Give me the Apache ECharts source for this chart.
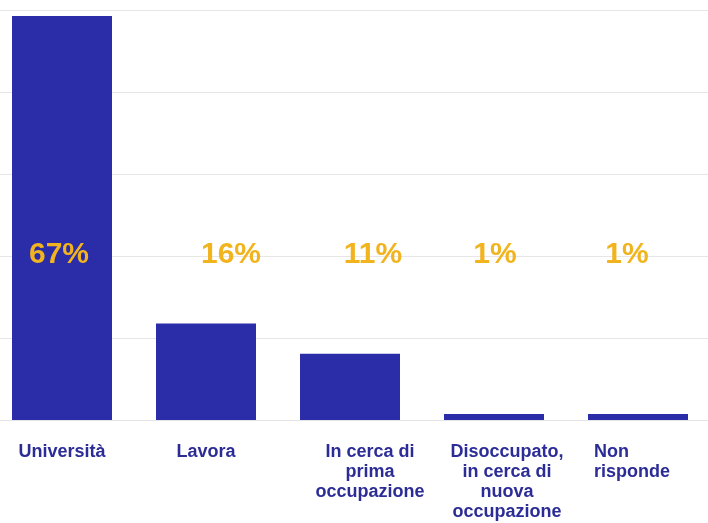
<!DOCTYPE html>
<html>
<head>
<meta charset="utf-8">
<script src="https://cdn.jsdelivr.net/npm/echarts@6/dist/echarts.min.js"></script>
<style>html,body{margin:0;padding:0;background:#fff}#c{width:708px;height:523px}</style>
</head>
<body>
<div id="c"></div>
<script>
const categories = ['Università', 'Lavora', 'In cerca di\nprima\noccupazione', 'Disoccupato,\nin cerca di\nnuova\noccupazione', 'Non\nrisponde'];
const values = [67, 16, 11, 1, 1];
const percentLabels = ['67%', '16%', '11%', '1%', '1%'];
const labelLevel = 27.4; // height (in axis units) where the percentage labels sit
const labelShift = [-3, 25, 23, 1, -11];
const catShift = [0, 0, 40, 26, 0];

const chart = echarts.init(document.getElementById('c'));
chart.setOption({
  animation: false,
  grid: { left: -10, width: 720, top: 10, bottom: 103, containLabel: false, outerBoundsMode: 'none' },
  xAxis: {
    type: 'category',
    data: categories.map((c, i) => ({
      value: c,
      textStyle: { padding: [0, 0, 0, catShift[i]] }
    })),
    axisLine: { show: true, lineStyle: { color: '#e4e4e4' } },
    axisTick: { show: false },
    axisLabel: {
      interval: 0,
      margin: 22,
      color: '#2b2c96',
      fontFamily: 'Liberation Sans, Arial, sans-serif',
      fontWeight: 'bold',
      fontSize: 18,
      lineHeight: 20,
      hideOverlap: false,
      formatter: (v, i) => i === 4 ? v.split('\n').map(s => '{l|' + s + '}').join('\n') : v,
      rich: {
        l: {
          width: 88, align: 'left',
          color: '#2b2c96',
          fontFamily: 'Liberation Sans, Arial, sans-serif',
          fontWeight: 'bold',
          fontSize: 18,
          lineHeight: 20
        }
      }
    }
  },
  yAxis: {
    type: 'value',
    min: 0, max: 68, interval: 13.6,
    axisLabel: { show: false },
    axisLine: { show: false },
    axisTick: { show: false },
    splitLine: { lineStyle: { color: '#e6e6e6', width: 1 } }
  },
  series: [
    {
      type: 'bar',
      data: values,
      barWidth: 100,
      itemStyle: { color: '#2b2ca8' }
    },
    {
      type: 'scatter',
      symbolSize: 0,
      z: 5,
      itemStyle: { opacity: 1 },
      data: percentLabels.map((t, i) => ({ value: [i, labelLevel], name: t })),
      label: {
        show: true,
        position: 'inside',
        formatter: p => p.name,
        color: '#f2b41e',
        fontFamily: 'Liberation Sans, Arial, sans-serif',
        fontWeight: 'bold',
        fontSize: 30
      },
      labelLayout: p => ({ dx: labelShift[p.dataIndex] })
    }
  ]
});
</script>
</body>
</html>
